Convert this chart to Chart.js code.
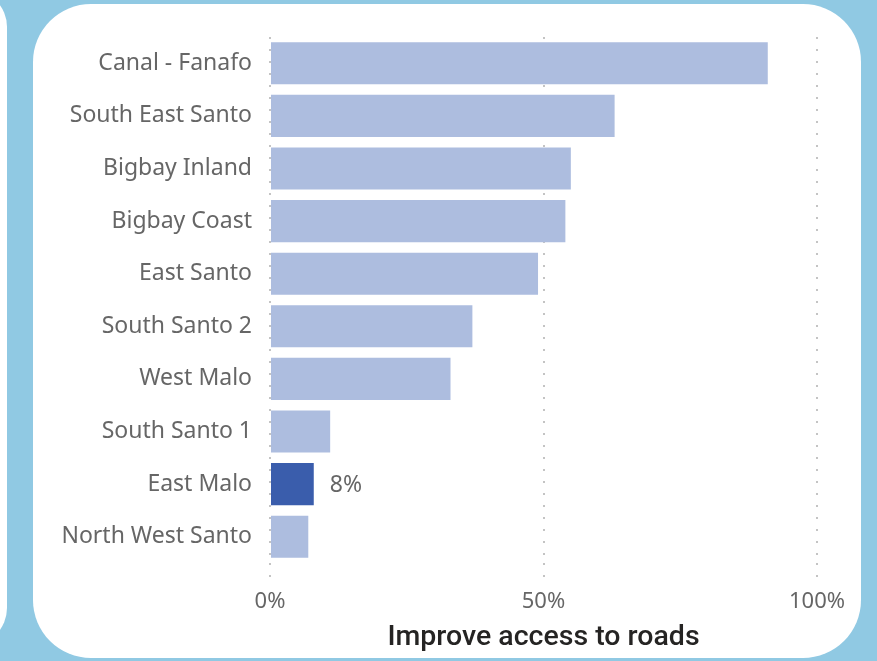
<!DOCTYPE html>
<html>
<head>
<meta charset="utf-8">
<script src="https://cdn.jsdelivr.net/npm/chart.js@4.4.0/dist/chart.umd.min.js"></script>
<style>
  html, body { margin: 0; padding: 0; }
  body { width: 877px; height: 661px; background: #90c9e3; position: relative; overflow: hidden; }
  .side { position: absolute; left: -30px; top: -10px; width: 37px; height: 655px; background: #fff; border-radius: 0 40px 40px 0; }
  .card { position: absolute; left: 33px; top: 4px; width: 828px; height: 654px; background: #fff; border-radius: 58px; }
  #wrap { position: absolute; left: 0; top: 0; width: 877px; height: 661px; }
</style>
</head>
<body>
<div class="side"></div>
<div class="card"></div>
<div id="wrap"><canvas id="barchart"></canvas></div>
<script>
var areas = ["Canal - Fanafo", "South East Santo", "Bigbay Inland", "Bigbay Coast", "East Santo",
             "South Santo 2", "West Malo", "South Santo 1", "East Malo", "North West Santo"];
var values = [91, 63, 55, 54, 49, 37, 33, 11, 8, 7];
var highlight = "East Malo";
var xTicks = [0, 50, 100];

var barColor = '#adbddf';
var highlightColor = '#3a5dac';
var textColor = '#666666';
var fontName = "'Noto Sans', sans-serif";

var colors = areas.map(function (a) { return a === highlight ? highlightColor : barColor; });

// label only the highlighted bar
var valueLabel = {
    id: 'valueLabel',
    afterDatasetsDraw: function (chart) {
        var ctx = chart.ctx;
        var meta = chart.getDatasetMeta(0);
        ctx.save();
        ctx.font = '23px ' + fontName;
        ctx.fillStyle = textColor;
        ctx.textBaseline = 'middle';
        ctx.textAlign = 'left';
        meta.data.forEach(function (bar, i) {
            if (areas[i] !== highlight) return;
            ctx.fillText(values[i] + '%', bar.x + 16, bar.y + 1);
        });
        ctx.restore();
    }
};

var ctx = document.getElementById("barchart").getContext('2d');
var chart = new Chart(ctx, {
    type: 'bar',
    data: {
        labels: areas,
        datasets: [{
            data: values,
            backgroundColor: colors,
            categoryPercentage: 0.8,
            barPercentage: 1
        }]
    },
    options: {
        indexAxis: 'y',
        responsive: true,
        maintainAspectRatio: false,
        animation: false,
        layout: { padding: { top: 37, right: 60, left: 0, bottom: 0 } },
        plugins: {
            legend: { display: false },
            tooltip: { enabled: false }
        },
        scales: {
            x: {
                min: 0,
                max: 100,
                afterBuildTicks: function (scale) {
                    scale.ticks = xTicks.map(function (v) { return { value: v }; });
                },
                border: { display: false, dash: [2, 10] },
                grid: {
                    color: '#c4c4c4',
                    lineWidth: 2,
                    tickLength: 15,
                    tickBorderDash: [2, 10]
                },
                ticks: {
                    color: textColor,
                    font: { family: fontName, size: 22 },
                    padding: 11,
                    callback: function (v) { return v + '%'; }
                },
                title: {
                    display: true,
                    text: 'Improve access to roads',
                    color: '#252423',
                    font: { family: "Roboto, sans-serif", size: 28.5, weight: '500' },
                    padding: { top: 8, bottom: 6 }
                },
                afterFit: function (scale) { scale.height = 98; }
            },
            y: {
                border: { display: false },
                grid: { display: false },
                ticks: {
                    color: textColor,
                    font: { family: fontName, size: 23 },
                    padding: 10
                },
                afterFit: function (scale) { scale.width = 270; }
            }
        }
    },
    plugins: [valueLabel]
});
</script>
</body>
</html>
